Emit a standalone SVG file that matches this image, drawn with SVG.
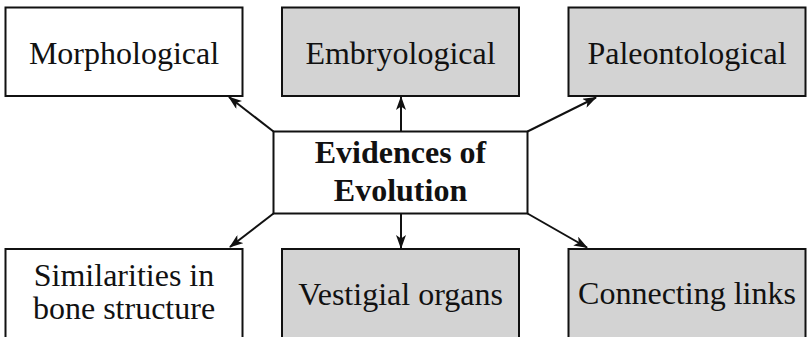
<svg xmlns="http://www.w3.org/2000/svg" width="808" height="337" viewBox="0 0 808 337" font-family="'Liberation Serif', 'Times New Roman', Times, serif">
<style>
.box{stroke:#111;stroke-width:2;}
.w{fill:#fff;}
.g{fill:#d3d3d3;}
text{font-family:'Liberation Serif','Times New Roman',Times,serif;font-size:32px;fill:#111;text-anchor:middle;}
.b{font-weight:bold;}
.c{stroke:#111;stroke-width:2;fill:none;marker-end:url(#ah);}
</style>
<defs>
<marker id="ah" viewBox="0 0 14 10" refX="13" refY="5" markerWidth="14" markerHeight="10" markerUnits="userSpaceOnUse" orient="auto">
<path d="M0,0 L14,5 L0,10 L3.5,5 z" fill="#111"/>
</marker>
</defs>
<rect width="808" height="337" fill="#fff"/>
<g id="connectors">
<line class="c" x1="273.5" y1="131.5" x2="229" y2="97"/>
<line class="c" x1="401" y1="131.5" x2="401" y2="97"/>
<line class="c" x1="527.5" y1="131.5" x2="596" y2="97.5"/>
<line class="c" x1="273.5" y1="213.5" x2="230" y2="247"/>
<line class="c" x1="401" y1="213.5" x2="401" y2="248"/>
<line class="c" x1="527.5" y1="213.5" x2="587" y2="247.5"/>
</g>
<g id="center">
<rect class="box w" x="273.5" y="131.5" width="254" height="82"/>
<text class="b" x="400.5" y="163" font-family="Liberation Serif">Evidences of</text>
<text class="b" x="400.5" y="201" font-family="Liberation Serif">Evolution</text>
</g>
<g id="morphological">
<rect class="box w" x="5.5" y="7.5" width="237" height="88.5"/>
<text x="124" y="63.5" font-family="Liberation Serif">Morphological</text>
</g>
<g id="embryological">
<rect class="box g" x="282" y="7.5" width="237" height="88.5"/>
<text x="400.5" y="63.5" font-family="Liberation Serif">Embryological</text>
</g>
<g id="paleontological">
<rect class="box g" x="568.5" y="7.5" width="237" height="88.5"/>
<text x="687" y="63.5" font-family="Liberation Serif">Paleontological</text>
</g>
<g id="similarities">
<rect class="box w" x="5.5" y="249" width="237" height="100"/>
<text x="124" y="286" font-family="Liberation Serif">Similarities in</text>
<text x="124" y="318.5" font-family="Liberation Serif">bone structure</text>
</g>
<g id="vestigial">
<rect class="box g" x="282" y="249" width="237" height="100"/>
<text x="400.5" y="305" font-family="Liberation Serif">Vestigial organs</text>
</g>
<g id="connecting">
<rect class="box g" x="568.5" y="249" width="237" height="100"/>
<text x="687" y="304" font-family="Liberation Serif">Connecting links</text>
</g>
</svg>
